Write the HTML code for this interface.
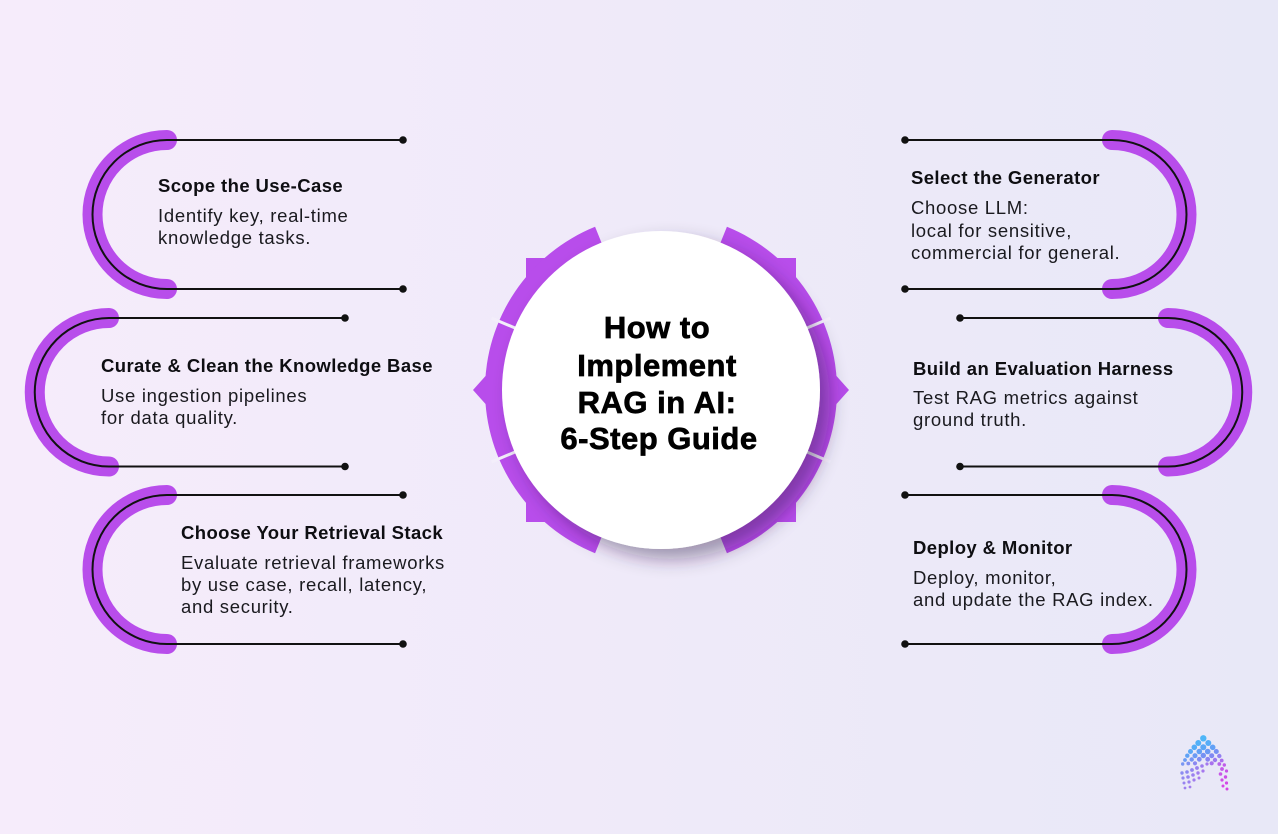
<!DOCTYPE html>
<html>
<head>
<meta charset="utf-8">
<style>
  html, body { margin:0; padding:0; }
  body { width:1278px; height:834px; overflow:hidden; }
  svg { display:block; }
  .t { font-family:"Liberation Sans", Arial, sans-serif; font-weight:bold; font-size:18.5px; letter-spacing:0.4px; fill:#0e0e12; }
  .b { font-family:"Liberation Sans", Arial, sans-serif; font-size:18.5px; letter-spacing:0.7px; fill:#1a1a1f; }
  .c { font-family:"Liberation Sans", Arial, sans-serif; font-weight:bold; font-size:31px; letter-spacing:0.5px; fill:#000; stroke:#000; stroke-width:0.7px; }
</style>
</head>
<body>
<svg width="1278" height="834" viewBox="0 0 1278 834" xmlns="http://www.w3.org/2000/svg">
  <defs>
    <linearGradient id="bg" x1="0" y1="0" x2="1" y2="0">
      <stop offset="0" stop-color="#f6ecfb"/>
      <stop offset="1" stop-color="#e8e8f7"/>
    </linearGradient>
    <filter id="sh" x="-30%" y="-30%" width="160%" height="160%">
      <feDropShadow dx="10" dy="10" stdDeviation="9" flood-color="#2e1f48" flood-opacity="0.42"/>
    </filter>
  </defs>

  <rect x="0" y="0" width="1278" height="834" fill="url(#bg)"/>

  <g fill="none" stroke-linecap="round">
    <path d="M167,140 A74.5,74.5 0 0 0 167,289" stroke="#b84deb" stroke-width="20"/>
    <path d="M403,140 H167 A74.5,74.5 0 0 0 167,289 H403" stroke="#111" stroke-width="2"/>
    <path d="M109,318 A74.25,74.25 0 0 0 109,466.5" stroke="#b84deb" stroke-width="20"/>
    <path d="M345,318 H109 A74.25,74.25 0 0 0 109,466.5 H345" stroke="#111" stroke-width="2"/>
    <path d="M167,495 A74.5,74.5 0 0 0 167,644" stroke="#b84deb" stroke-width="20"/>
    <path d="M403,495 H167 A74.5,74.5 0 0 0 167,644 H403" stroke="#111" stroke-width="2"/>

    <path d="M1112,140 A74.5,74.5 0 0 1 1112,289" stroke="#b84deb" stroke-width="20"/>
    <path d="M905,140 H1112 A74.5,74.5 0 0 1 1112,289 H905" stroke="#111" stroke-width="2"/>
    <path d="M1168,318 A74.25,74.25 0 0 1 1168,466.5" stroke="#b84deb" stroke-width="20"/>
    <path d="M960,318 H1168 A74.25,74.25 0 0 1 1168,466.5 H960" stroke="#111" stroke-width="2"/>
    <path d="M1112,495 A74.5,74.5 0 0 1 1112,644" stroke="#b84deb" stroke-width="20"/>
    <path d="M905,495 H1112 A74.5,74.5 0 0 1 1112,644 H905" stroke="#111" stroke-width="2"/>
  </g>
  <g fill="#111">
    <circle cx="403" cy="140" r="3.8"/><circle cx="403" cy="289" r="3.8"/>
    <circle cx="345" cy="318" r="3.8"/><circle cx="345" cy="466.5" r="3.8"/>
    <circle cx="403" cy="495" r="3.8"/><circle cx="403" cy="644" r="3.8"/>
    <circle cx="905" cy="140" r="3.8"/><circle cx="905" cy="289" r="3.8"/>
    <circle cx="960" cy="318" r="3.8"/><circle cx="960" cy="466.5" r="3.8"/>
    <circle cx="905" cy="495" r="3.8"/><circle cx="905" cy="644" r="3.8"/>
  </g>

  <text class="t" x="158" y="192">Scope the Use-Case</text>
  <text class="b" x="158" y="222">Identify key, real-time</text>
  <text class="b" x="158" y="244">knowledge tasks.</text>

  <text class="t" x="101" y="372">Curate &amp; Clean the Knowledge Base</text>
  <text class="b" x="101" y="402">Use ingestion pipelines</text>
  <text class="b" x="101" y="424">for data quality.</text>

  <text class="t" x="181" y="539">Choose Your Retrieval Stack</text>
  <text class="b" x="181" y="569">Evaluate retrieval frameworks</text>
  <text class="b" x="181" y="591">by use case, recall, latency,</text>
  <text class="b" x="181" y="613">and security.</text>

  <text class="t" x="911" y="184">Select the Generator</text>
  <text class="b" x="911" y="214">Choose LLM:</text>
  <text class="b" x="911" y="237">local for sensitive,</text>
  <text class="b" x="911" y="259">commercial for general.</text>

  <text class="t" x="913" y="375">Build an Evaluation Harness</text>
  <text class="b" x="913" y="404">Test RAG metrics against</text>
  <text class="b" x="913" y="426">ground truth.</text>

  <text class="t" x="913" y="554">Deploy &amp; Monitor</text>
  <text class="b" x="913" y="584">Deploy, monitor,</text>
  <text class="b" x="913" y="606">and update the RAG index.</text>

  <g fill="#b84deb">
    <rect x="526" y="258" width="60" height="60"/>
    <rect x="736" y="258" width="60" height="60"/>
    <rect x="526" y="462" width="60" height="60"/>
    <rect x="736" y="462" width="60" height="60"/>
    <polygon points="490,371 473,390 490,409"/>
    <polygon points="832,371 849,390 832,409"/>
    <path d="M595.07,226.81 A176,176 0 0 0 595.07,553.19 L604.81,529.08 A150,150 0 0 1 604.81,250.92 Z"/>
    <path d="M726.93,226.81 A176,176 0 0 1 726.93,553.19 L717.19,529.08 A150,150 0 0 0 717.19,250.92 Z"/>
  </g>
  <g stroke="#f3eefa" stroke-width="3">
    <line x1="518.3" y1="329.4" x2="491.6" y2="318.1"/>
    <line x1="518.3" y1="450.6" x2="491.6" y2="461.9"/>
    <line x1="803.7" y1="329.4" x2="830.4" y2="318.1"/>
    <line x1="803.7" y1="450.6" x2="830.4" y2="461.9"/>
  </g>

  <circle cx="661" cy="390" r="159" fill="#ffffff" filter="url(#sh)"/>

  <text class="c" x="657" y="338" text-anchor="middle">How to</text>
  <text class="c" x="657" y="376" text-anchor="middle">Implement</text>
  <text class="c" x="657" y="413" text-anchor="middle">RAG in AI:</text>
  <text class="c" x="659" y="449" text-anchor="middle">6-Step Guide</text>

  <g>
    <circle cx="1203.3" cy="738.3" r="3.2" fill="#4fb6f8"/>
    <circle cx="1198.3" cy="743" r="3.0" fill="#52b0f7"/>
    <circle cx="1208.3" cy="743" r="3.0" fill="#56acf7"/>
    <circle cx="1194.3" cy="747.3" r="2.8" fill="#55acf7"/>
    <circle cx="1203.3" cy="747.3" r="3.0" fill="#5aa6f6"/>
    <circle cx="1212.7" cy="747.3" r="2.8" fill="#62a0f6"/>
    <circle cx="1190.5" cy="751.5" r="2.5" fill="#5aa8f6"/>
    <circle cx="1199.3" cy="751.5" r="2.8" fill="#619ff5"/>
    <circle cx="1207.7" cy="751.5" r="2.8" fill="#6a98f4"/>
    <circle cx="1216.3" cy="751.5" r="2.5" fill="#7690f3"/>
    <circle cx="1187.3" cy="755.7" r="2.2" fill="#60a2f5"/>
    <circle cx="1195" cy="755.7" r="2.5" fill="#6a9af4"/>
    <circle cx="1203.3" cy="755.5" r="2.7" fill="#7490f3"/>
    <circle cx="1211.7" cy="755.7" r="2.5" fill="#8088f2"/>
    <circle cx="1219.3" cy="756" r="2.2" fill="#9280f1"/>
    <circle cx="1185" cy="760" r="1.9" fill="#6a9cf4"/>
    <circle cx="1191.7" cy="759.5" r="2.2" fill="#7494f3"/>
    <circle cx="1199.3" cy="759.3" r="2.4" fill="#7e8bf2"/>
    <circle cx="1207.7" cy="759.3" r="2.4" fill="#8a82f1"/>
    <circle cx="1215" cy="760" r="2.2" fill="#9a78ef"/>
    <circle cx="1221.7" cy="760.5" r="1.9" fill="#a96ded"/>
    <circle cx="1182.7" cy="764" r="1.7" fill="#7896f3"/>
    <circle cx="1188.3" cy="763.5" r="1.9" fill="#8090f2"/>
    <circle cx="1195" cy="763.3" r="2.1" fill="#8a88f1"/>
    <circle cx="1211.7" cy="763.3" r="2.1" fill="#a872ee"/>
    <circle cx="1219.3" cy="764" r="1.9" fill="#b566eb"/>
    <circle cx="1224.3" cy="765" r="1.7" fill="#c05ce9"/>
    <circle cx="1182" cy="773" r="1.7" fill="#8c8cf1"/>
    <circle cx="1187" cy="772" r="1.8" fill="#8e88f1"/>
    <circle cx="1192" cy="770" r="1.9" fill="#9284f0"/>
    <circle cx="1197" cy="768" r="1.9" fill="#9880ef"/>
    <circle cx="1202" cy="766" r="1.8" fill="#9e7cef"/>
    <circle cx="1207" cy="764" r="1.6" fill="#a478ee"/>
    <circle cx="1183" cy="778" r="1.6" fill="#9288f0"/>
    <circle cx="1188" cy="777" r="1.8" fill="#9684f0"/>
    <circle cx="1193" cy="775" r="1.8" fill="#9a80ef"/>
    <circle cx="1198" cy="773" r="1.7" fill="#a07cee"/>
    <circle cx="1203" cy="771" r="1.6" fill="#a678ee"/>
    <circle cx="1184" cy="783" r="1.5" fill="#9884f0"/>
    <circle cx="1189" cy="782" r="1.6" fill="#9c80ef"/>
    <circle cx="1194" cy="780" r="1.6" fill="#a07cee"/>
    <circle cx="1199" cy="778" r="1.5" fill="#a678ee"/>
    <circle cx="1185" cy="788" r="1.4" fill="#9e80ef"/>
    <circle cx="1190" cy="787" r="1.4" fill="#a27cee"/>
    <circle cx="1222" cy="769" r="1.9" fill="#c458e9"/>
    <circle cx="1226.5" cy="771" r="1.6" fill="#c852e8"/>
    <circle cx="1220.5" cy="774" r="1.8" fill="#c858e8"/>
    <circle cx="1225.5" cy="777" r="1.7" fill="#cc4ee7"/>
    <circle cx="1222" cy="780" r="1.6" fill="#d04ce7"/>
    <circle cx="1226.5" cy="783" r="1.6" fill="#d448e6"/>
    <circle cx="1223" cy="786" r="1.5" fill="#d646e6"/>
    <circle cx="1227" cy="789" r="1.5" fill="#d842e6"/>
  </g>
</svg>
</body>
</html>
